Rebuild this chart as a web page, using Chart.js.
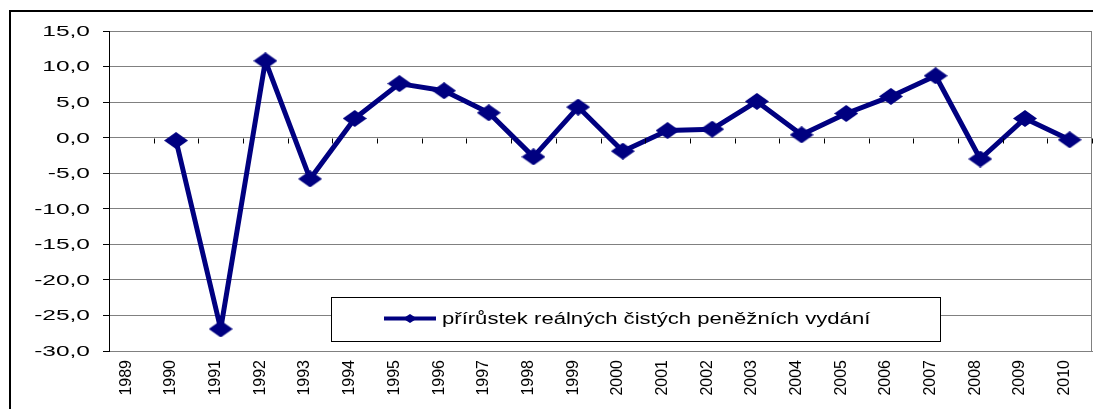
<!DOCTYPE html>
<html>
<head>
<meta charset="utf-8">
<script src="https://cdn.jsdelivr.net/npm/chart.js@4/dist/chart.umd.min.js"></script>
<style>
  html, body { margin: 0; padding: 0; background: #fff; }
  body { width: 1093px; height: 409px; overflow: hidden; position: relative; }
  #frame { position: absolute; left: 9px; top: 10px; width: 1200px; height: 500px;
           border-left: 2px solid #000; border-top: 2px solid #000; }
  #chart { position: absolute; left: 0; top: 0; }
</style>
</head>
<body>
<div id="frame"></div>
<canvas id="chart" width="1093" height="409"></canvas>
<script>
const years = ['1989', '1990', '1991', '1992', '1993', '1994', '1995', '1996', '1997', '1998', '1999',
  '2000', '2001', '2002', '2003', '2004', '2005', '2006', '2007', '2008', '2009', '2010']
const growth = [null, -0.4, -26.9, 10.8, -5.8, 2.7, 7.6, 6.6, 3.5, -2.7, 4.3,
  -1.9, 1.0, 1.2, 5.1, 0.4, 3.4, 5.8, 8.7, -3.0, 2.7, -0.3]
const seriesLabel = 'přírůstek reálných čistých peněžních vydání'
const yMin = -30
const yMax = 15
const yStep = 5

const navy = '#000080'
const gridGray = '#808080'
const fontFamily = "'Liberation Sans', Arial, sans-serif"

// wide flat diamond like the excel marker
function makeDiamond(w, h) {
  const c = document.createElement('canvas')
  c.width = w
  c.height = h
  const g = c.getContext('2d')
  g.fillStyle = navy
  g.beginPath()
  g.moveTo(w / 2, 0)
  g.lineTo(w, h / 2)
  g.lineTo(w / 2, h)
  g.lineTo(0, h / 2)
  g.closePath()
  g.fill()
  return c
}
const marker = makeDiamond(24, 17)
const legendMarker = makeDiamond(14, 9)

function formatTick(v) {
  return v.toFixed(1).replace('.', ',')
}

// stretched y labels, zero-line ticks, right border, boxed legend
const excelLook = {
  id: 'excelLook',
  afterDraw(chart) {
    const ctx = chart.ctx
    const area = chart.chartArea
    const y = chart.scales.y
    const x = chart.scales.x

    ctx.save()
    ctx.strokeStyle = gridGray
    ctx.lineWidth = 1
    ctx.beginPath()
    ctx.moveTo(area.right - 0.5, area.top)
    ctx.lineTo(area.right - 0.5, area.bottom)
    ctx.stroke()

    // ticks hanging under the 0 line between categories
    const zeroY = Math.round(y.getPixelForValue(0)) + 0.5
    ctx.strokeStyle = '#000'
    ctx.beginPath()
    for (let k = 0; k <= years.length; k++) {
      const px = Math.round(x.getPixelForValue(k - 0.5)) + 0.5
      ctx.moveTo(px, zeroY)
      ctx.lineTo(px, zeroY + 5)
    }
    ctx.stroke()

    // y labels
    ctx.fillStyle = '#000'
    ctx.font = '14px ' + fontFamily
    ctx.textAlign = 'right'
    ctx.textBaseline = 'middle'
    y.ticks.forEach((t) => {
      const py = y.getPixelForValue(t.value)
      ctx.save()
      ctx.translate(90, py + 1)
      ctx.scale(1.75, 1)
      ctx.fillText(formatTick(t.value), 0, 0)
      ctx.restore()
    })

    // legend box
    ctx.fillStyle = '#fff'
    ctx.fillRect(331, 297, 609, 44)
    ctx.strokeStyle = '#000'
    ctx.strokeRect(331.5, 297.5, 609, 44)
    ctx.strokeStyle = navy
    ctx.lineWidth = 4
    ctx.beginPath()
    ctx.moveTo(384, 318.5)
    ctx.lineTo(436, 318.5)
    ctx.stroke()
    ctx.drawImage(legendMarker, 410 - 7, 318.5 - 4.5)
    ctx.fillStyle = '#000'
    ctx.font = '16px ' + fontFamily
    ctx.textAlign = 'left'
    ctx.textBaseline = 'alphabetic'
    ctx.translate(442, 324)
    ctx.scale(1.38, 1)
    ctx.fillText(seriesLabel, 0, 0)
    ctx.restore()
  }
}

new Chart(document.getElementById('chart'), {
  type: 'line',
  data: {
    labels: years,
    datasets: [
      {
        label: seriesLabel,
        data: growth,
        borderColor: navy,
        backgroundColor: navy,
        borderWidth: 5,
        borderJoinStyle: 'round',
        pointStyle: marker,
        pointRadius: 9,
        tension: 0,
      },
    ],
  },
  options: {
    responsive: false,
    animation: false,
    layout: { autoPadding: false, padding: { left: 0, top: 31, right: 1, bottom: 0 } },
    plugins: {
      legend: { display: false },
      tooltip: { enabled: false },
    },
    scales: {
      x: {
        offset: true,
        afterFit: (scale) => {
          scale.height = 58
          scale.paddingLeft = 0
          scale.paddingRight = 0
        },
        grid: { display: true, color: 'rgba(0,0,0,0)', drawTicks: false },
        border: { display: true, color: gridGray, width: 1 },
        ticks: {
          autoSkip: false,
          minRotation: 90,
          maxRotation: 90,
          padding: 9,
          labelOffset: -5,
          color: '#000',
          font: { family: fontFamily, size: 16 },
        },
      },
      y: {
        min: yMin,
        max: yMax,
        afterFit: (scale) => {
          scale.width = 109
          scale.paddingTop = 0
          scale.paddingBottom = 0
        },
        grid: { color: gridGray, lineWidth: 1, drawTicks: true, tickLength: 6, tickColor: '#000' },
        border: { display: true, color: '#000', width: 1 },
        ticks: {
          stepSize: yStep,
          color: 'rgba(0,0,0,0)',
          callback: (v) => formatTick(v),
          font: { family: fontFamily, size: 14 },
        },
      },
    },
  },
  plugins: [excelLook],
})
</script>
</body>
</html>
